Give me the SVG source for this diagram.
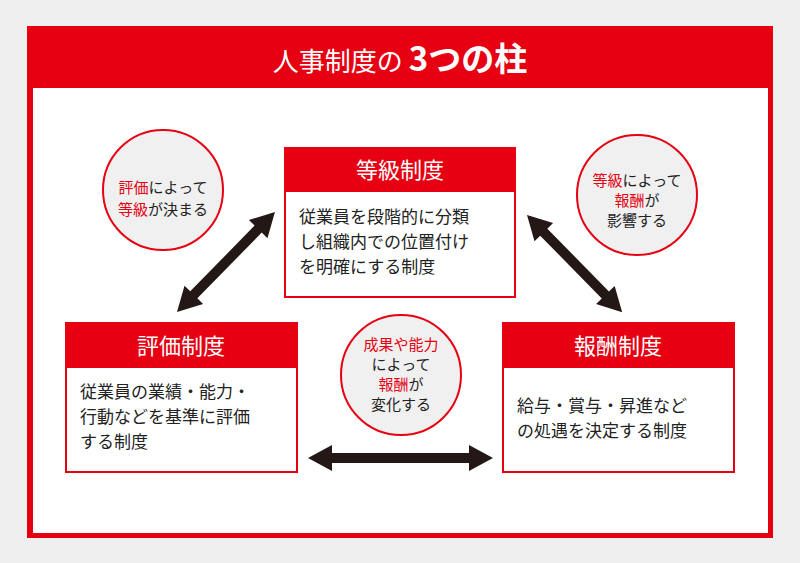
<svg xmlns="http://www.w3.org/2000/svg" width="800" height="563" viewBox="0 0 800 563">
<style>
text{font-family:"Noto Sans CJK JP","Noto Sans",sans-serif;}
.hd{fill:#e60012}
.bx{fill:#fff;stroke:#e60012;stroke-width:2}
.ht{fill:#fff;font-size:22px;text-anchor:middle}
.bt{fill:#222;font-size:17px}
.ct{fill:#222;font-size:15px;text-anchor:middle}
.r{fill:#e60012}
.cc{fill:#f0f0f0;stroke:#e60012;stroke-width:2}
.ar{fill:#231815}
</style>
<rect width="800" height="563" fill="#efefef"/>
<rect x="27" y="26" width="746" height="512" fill="#e60012"/>
<rect x="33" y="88" width="735" height="445" fill="#fff"/>
<text x="400" y="71" fill="#fff" font-size="26" text-anchor="middle">人事制度の <tspan font-size="33" font-weight="bold">3つの柱</tspan></text>
<g id="connectors">
<polygon class="ar" transform="translate(308,458)" points="0,0 24,-13 24,-5 161,-5 161,-13 185,0 161,13 161,5 24,5 24,13"/>
<polygon class="ar" transform="translate(177,312) rotate(-45.6)" points="0,0 24,-13 24,-5 116,-5 116,-13 140,0 116,13 116,5 24,5 24,13"/>
<polygon class="ar" transform="translate(527,215) rotate(45.6)" points="0,0 24,-13 24,-5 112,-5 112,-13 136,0 112,13 112,5 24,5 24,13"/>
</g>
<g id="c1"><circle class="cc" cx="163" cy="190" r="60"/>
<text class="ct" x="163" y="193"><tspan class="r">評価</tspan>によって</text>
<text class="ct" x="163" y="215"><tspan class="r">等級</tspan>が決まる</text></g>
<g id="c2"><circle class="cc" cx="637" cy="195" r="60"/>
<text class="ct" x="637" y="186"><tspan class="r">等級</tspan>によって</text>
<text class="ct" x="637" y="206"><tspan class="r">報酬</tspan>が</text>
<text class="ct" x="637" y="226">影響する</text></g>
<g id="c3"><circle class="cc" cx="401" cy="375" r="60"/>
<text class="ct r" x="401" y="350">成果や能力</text>
<text class="ct" x="401" y="370">によって</text>
<text class="ct" x="401" y="390"><tspan class="r">報酬</tspan>が</text>
<text class="ct" x="401" y="410">変化する</text></g>
<g id="top"><rect class="bx" x="285" y="148" width="230" height="149"/><rect class="hd" x="285" y="148" width="230" height="44"/>
<text class="ht" x="400" y="178">等級制度</text>
<text class="bt" x="299" y="223">従業員を段階的に分類</text>
<text class="bt" x="299" y="248">し組織内での位置付け</text>
<text class="bt" x="299" y="273">を明確にする制度</text></g>
<g id="left"><rect class="bx" x="66" y="323" width="231" height="149"/><rect class="hd" x="66" y="323" width="231" height="45"/>
<text class="ht" x="181" y="354">評価制度</text>
<text class="bt" x="80" y="398">従業員の業績・能力・</text>
<text class="bt" x="80" y="423">行動などを基準に評価</text>
<text class="bt" x="80" y="448">する制度</text></g>
<g id="right"><rect class="bx" x="503" y="323" width="231" height="149"/><rect class="hd" x="503" y="323" width="231" height="45"/>
<text class="ht" x="618" y="354">報酬制度</text>
<text class="bt" x="517" y="412">給与・賞与・昇進など</text>
<text class="bt" x="517" y="437">の処遇を決定する制度</text></g>
</svg>
